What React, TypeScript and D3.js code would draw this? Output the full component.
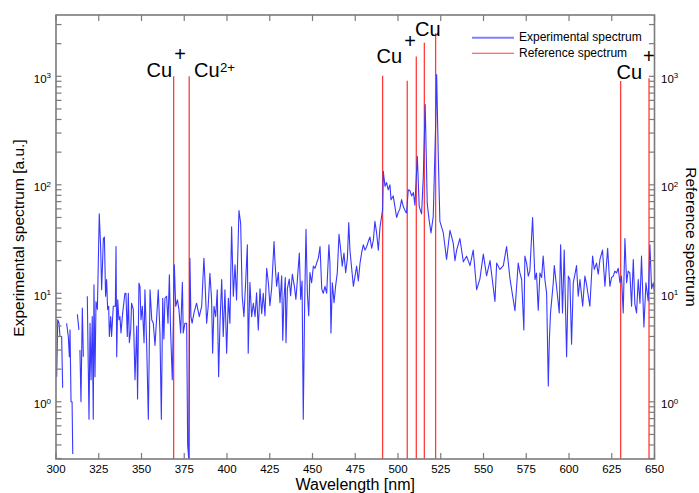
import React from "react";
import * as d3 from "d3";

// ---- DATA ----
const wavelengths: number[] = [
  300.4, 301.0, 301.8, 302.3, 303.3, 303.9, 305.0, 306.2, 307.2, 307.8, 308.2, 308.8, 309.4, 309.8, 311.0,
  312.5, 313.4, 313.7, 314.0, 314.6, 315.4, 316.0, 317.0, 318.3, 319.3, 319.9, 320.5, 321.2, 321.8, 322.2,
  322.8, 323.4, 324.2, 325.3, 326.1, 326.7, 327.7, 328.3, 329.0, 329.6, 330.2, 330.8, 331.2, 332.0, 332.5,
  333.5, 334.7, 335.1, 335.5, 336.1, 336.8, 337.4, 338.0, 339.0, 340.3, 340.9, 341.7, 342.3, 342.9, 343.7,
  344.2, 345.2, 346.2, 347.2, 347.7, 348.5, 349.1, 349.7, 350.5, 351.5, 352.0, 353.0, 354.0, 355.0, 356.0,
  356.9, 357.9, 358.9, 359.8, 360.8, 361.6, 362.4, 363.1, 363.7, 364.7, 365.5, 366.3, 367.0, 368.0, 369.2,
  370.0, 371.0, 371.9, 372.9, 373.9, 374.4, 375.4, 376.4, 377.0, 377.6, 378.3, 378.9, 379.6, 380.7, 382.2,
  383.8, 385.2, 386.5, 387.1, 388.1, 389.0, 390.0, 391.0, 391.6, 392.4, 393.4, 394.3, 395.1, 395.9, 396.9,
  397.8, 398.8, 399.8, 400.8, 401.7, 402.7, 403.7, 404.7, 405.6, 407.0, 408.0, 408.9, 409.9, 410.9, 411.9,
  412.4, 413.4, 414.4, 415.4, 416.4, 417.3, 418.3, 419.3, 420.3, 421.2, 422.2, 423.2, 424.2, 425.1, 426.1,
  427.5, 428.1, 429.0, 430.0, 431.0, 432.0, 432.6, 433.3, 434.1, 434.5, 435.3, 436.4, 437.2, 438.2, 439.4,
  440.3, 441.1, 442.3, 443.1, 443.9, 444.6, 445.4, 446.2, 447.0, 447.8, 448.5, 449.5, 450.5, 451.5, 452.4,
  453.4, 454.4, 455.4, 456.3, 457.3, 458.3, 459.6, 460.2, 460.8, 461.6, 462.6, 463.5, 464.5, 465.5, 466.5,
  467.4, 468.4, 469.4, 470.4, 471.2, 471.9, 472.9, 473.9, 474.9, 475.8, 476.8, 477.8, 478.7, 479.7, 480.7,
  481.7, 482.6, 483.6, 484.6, 485.6, 486.5, 487.5, 488.5, 489.5, 490.4, 491.0, 491.4, 492.4, 493.3, 494.3,
  495.3, 495.9, 497.2, 498.2, 499.2, 500.2, 501.1, 502.1, 503.1, 504.5, 505.0, 506.0, 507.0, 508.0, 509.0,
  509.9, 511.3, 512.4, 513.8, 514.8, 515.9, 517.1, 518.3, 519.3, 520.6, 522.0, 522.6, 523.6, 524.5, 526.5,
  528.4, 530.4, 532.3, 533.3, 534.3, 536.2, 538.2, 540.1, 542.1, 544.0, 546.0, 547.9, 549.9, 551.8, 553.8,
  556.7, 557.7, 559.6, 561.6, 563.5, 565.5, 568.4, 570.3, 571.3, 572.3, 573.6, 574.2, 575.2, 576.2, 577.1,
  578.7, 580.1, 581.0, 582.0, 583.0, 584.0, 584.9, 585.9, 586.9, 587.9, 588.5, 589.2, 590.8, 591.4, 592.7,
  594.3, 595.1, 596.2, 597.2, 598.6, 599.6, 600.5, 601.5, 602.5, 603.5, 604.4, 605.4, 606.4, 608.0, 609.3,
  610.3, 611.3, 612.2, 613.8, 614.8, 616.1, 617.1, 618.1, 619.6, 621.0, 622.6, 623.9, 624.9, 625.9, 626.8,
  627.8, 628.8, 629.8, 630.7, 631.7, 632.7, 633.7, 634.6, 635.6, 636.6, 637.6, 638.5, 639.5, 640.5, 641.5,
  642.4, 643.8, 645.0, 646.3, 647.3, 648.3, 649.3, 650.0,
];

const intensities: (number | null)[] = [
  1.7, 5.7, 5.3, 4.0, 4.0, 1.35, null, 5.3, 4.0, 2.6, 4.6, 1.0, 1.0, 0.33, null,
  6.4, 4.6, null, 3.0, 1.0, 7.3, 2.6, null, 9.4, 0.69, 5.3, 1.6, 6.1, 0.69, 12,
  1.7, 8.4, 7.1, 54, 27, 10.8, 32, 33, 9.4, 13.4, 7.1, 7.6, 4.0, 6.1, 4.0,
  7.6, 7.6, 27, 2.6, 8.7, 5.7, 6.1, 4.3, 6.6, 10, 10, 4.0, 10, 3.5, 4.6,
  8.1, 7.1, 1.6, 5.0, 1.06, 12.4, 11.6, 5.7, 7.6, 3.5, 10.8, 3.5, 0.69, 10.8, 5.7,
  5.3, 3.3, 6.1, 10.8, 4.3, 0.69, 9.0, 3.8, 9.0, 9.4, 5.3, 14.8, 4.6, 1.6, 18.3,
  7.6, 8.7, 7.1, 4.3, 12.6, 4.3, 5.3, 5.3, 0.4, 0.3, 21, 6.1, 5.3, 6.6, 8.1,
  6.1, 7.6, 21, 13.4, 5.3, 7.6, 15.3, 8.7, 2.8, 7.6, 6.1, 10.8, 1.7, 5.3, 13.4,
  4.0, 10.8, 2.8, 9.0, 5.3, 41, 9.4, 18.3, 8.7, 58, 44, 9.4, 6.1, 12.6, 28,
  2.8, 12.6, 6.1, 8.1, 6.1, 10.1, 4.6, 11, 6.5, 10, 6.2, 17, 12.5, 7.7, 11,
  30, 19, 11.6, 15.5, 8.2, 14.5, 3.7, 8.8, 14, 3.5, 11, 13.5, 9.5, 15, 11.6,
  8.8, 13, 23.5, 8.8, 13, 0.69, 7.7, 39, 10, 6.2, 15.5, 12.5, 17.8, 17, 19,
  21, 27, 11, 10, 11.6, 10, 28, 19, 4.3, 12.5, 8.2, 11.6, 15.5, 35, 25,
  17.8, 23.5, 15.5, 21, 45, 25, 17, 11.6, 14.5, 17.8, 13, 19, 23.5, 28, 25,
  27, 30, 33, 26, 31, 46, 36, 25, 41, 51, 59, 133, 97, 105, 90,
  100, 73, 79, 63, 50, 56, 60, 73, 63, 56, 55, 90, 88, 79, 85,
  65, 183, 63, 54, 120, 549, 67, 46, 36, 51, 347, 1038, 171, 46, 36,
  20.5, 38, 29, 20, 25, 32, 19.5, 22, 18, 25, 10.8, 13.6, 23, 14.5, 20,
  8.4, 19, 16.6, 18, 27, 13.6, 6.9, 19, 15.4, 13.4, 4.6, 22, 19, 14.4, 16,
  50, 13.4, 15.4, 7, 15.4, 14, 22, 13.4, 10.1, 1.4, 3.7, 6.6, 12.5, 18, 11.6,
  6.6, 28, 6.6, 25, 2.6, 14.4, 13.4, 3.4, 12.5, 15, 18, 9.4, 13.4, 7.6, 14.4,
  12, 9.4, 7.6, 22, 16.6, 19, 15, 20.5, 25, 11.6, 26, 11.6, 14, 14.4, 16,
  15.4, 17, 12.5, 14.4, 6.6, 32, 12.5, 16, 15.4, 7.6, 20.5, 8, 6.6, 13.4, 8.1,
  22, 4.9, 12.5, 8.5, 28, 11, 12.5, 10,
];

const refWavelengths: number[] = [368.8, 377.9, 491.0, 505.4, 510.7, 515.4, 522.0, 630.2, 646.8];
const refIntensities: number[] = [1000, 1000, 1010, 910, 1520, 2040, 2500, 905, 960];

const xTickValues: number[] = [300, 325, 350, 375, 400, 425, 450, 475, 500, 525, 550, 575, 600, 625, 650];
const yDecades: number[] = [1, 10, 100, 1000];
const yDecadeExponents: string[] = ["0", "1", "2", "3"];

const legendLabels: string[] = ["Experimental spectrum", "Reference spectrum"];
const xAxisLabel = "Wavelength [nm]";
const leftAxisLabel = "Experimental spectrum [a.u.]";
const rightAxisLabel = "Reference spectrum";
const ionBase = "Cu";
const ionSuperscripts: string[] = ["+", "2+", "+", "", "+"];

// ---- LAYOUT ----
const W = 699;
const H = 493;
const L = 56;
const R = 654.5;
const T = 15;
const B = 459;
const FONT = "'Liberation Sans', Arial, Helvetica, sans-serif";
const AXIS = "#7b7b7b";
const BLUE = "#3838ff";
const RED = "#ff3c3c";

export default function App() {
  const x = d3.scaleLinear().domain([300, 650]).range([L, R]);
  const y = d3.scaleLog().domain([0.297, 3674]).range([B, T]);

  const pts = wavelengths.map((w, i) => ({ w, v: intensities[i] }));
  const line = d3
    .line<{ w: number; v: number | null }>()
    .defined((d) => d.v !== null && d.v > 0)
    .x((d) => x(d.w))
    .y((d) => y(d.v as number));

  const minorTicks: number[] = [];
  for (const dec of [0.1, 1, 10, 100, 1000]) {
    for (let m = 1; m <= 9; m++) {
      const v = m * dec;
      if (v >= 0.297 && v <= 3674) minorTicks.push(v);
    }
  }

  // ion label placements (pixel layout)
  const ionPlaces = [
    { x: 146.5, y: 77, sx: 174.2, sy: 60.7, sf: 20 },
    { x: 194, y: 77, sx: 220, sy: 71.5, sf: 13.2 },
    { x: 376.5, y: 63, sx: 404.2, sy: 47.9, sf: 20 },
    { x: 415, y: 35.5, sx: 0, sy: 0, sf: 20 },
    { x: 616.5, y: 79, sx: 643, sy: 63.2, sf: 20 },
  ];

  return (
    <svg
      width={W}
      height={H}
      style={{ position: "absolute", left: 0, top: 0, background: "#fff" }}
      fontFamily={FONT}
    >
      <defs>
        <clipPath id="plotclip">
          <rect x={L} y={T} width={R - L} height={B - T} />
        </clipPath>
      </defs>
      <rect x={0} y={0} width={W} height={H} fill="#fff" />

      {/* reference spectrum lines */}
      <g clipPath="url(#plotclip)">
        {refWavelengths.map((w, i) => (
          <line
            key={"r" + i}
            x1={x(w)}
            x2={x(w)}
            y1={B}
            y2={y(refIntensities[i])}
            stroke={RED}
            strokeWidth={1.3}
          />
        ))}
        <path d={line(pts) || ""} fill="none" stroke={BLUE} strokeWidth={1.1} strokeLinejoin="round" />
      </g>

      {/* frame */}
      <rect x={L} y={T} width={R - L} height={B - T} fill="none" stroke={AXIS} strokeWidth={1.6} />

      {/* x ticks */}
      {xTickValues.map((t) => (
        <g key={"x" + t}>
          <line x1={x(t)} x2={x(t)} y1={B} y2={B - 6} stroke={AXIS} strokeWidth={1.2} />
          <line x1={x(t)} x2={x(t)} y1={T} y2={T + 6} stroke={AXIS} strokeWidth={1.2} />
          <text x={x(t)} y={472.5} fontSize={11.5} textAnchor="middle" fill="#000">
            {t}
          </text>
        </g>
      ))}

      {/* y ticks */}
      {minorTicks.map((v, i) => (
        <g key={"y" + i}>
          <line x1={L} x2={L + 5.5} y1={y(v)} y2={y(v)} stroke={AXIS} strokeWidth={1.2} />
          <line x1={R} x2={R - 5.5} y1={y(v)} y2={y(v)} stroke={AXIS} strokeWidth={1.2} />
        </g>
      ))}
      {yDecades.map((v, i) => (
        <g key={"yl" + i}>
          <text x={51} y={y(v) + 6.5} fontSize={11.5} textAnchor="end" fill="#000">
            10
            <tspan fontSize={8} dy={-4.5}>
              {yDecadeExponents[i]}
            </tspan>
          </text>
          <text x={661} y={y(v) + 6.5} fontSize={11.5} textAnchor="start" fill="#000">
            10
            <tspan fontSize={8} dy={-4.5}>
              {yDecadeExponents[i]}
            </tspan>
          </text>
        </g>
      ))}

      {/* axis labels */}
      <text x={(L + R) / 2} y={489.5} fontSize={16} textAnchor="middle" fill="#000">
        {xAxisLabel}
      </text>
      <text
        transform={`translate(24,238) rotate(-90)`}
        fontSize={15.5}
        textAnchor="middle"
        fill="#000"
      >
        {leftAxisLabel}
      </text>
      <text
        transform={`translate(686,237) rotate(90)`}
        fontSize={15.5}
        textAnchor="middle"
        fill="#000"
      >
        {rightAxisLabel}
      </text>

      {/* ion labels */}
      {ionPlaces.map((p, i) => (
        <g key={"ion" + i}>
          <text x={p.x} y={p.y} fontSize={20} fill="#000">
            {ionBase}
          </text>
          {ionSuperscripts[i] && (
            <text x={p.sx} y={p.sy} fontSize={p.sf} fill="#000">
              {ionSuperscripts[i]}
            </text>
          )}
        </g>
      ))}

      {/* legend */}
      <line x1={472} x2={514} y1={37.7} y2={37.7} stroke="#7f7fff" strokeWidth={2} />
      <text x={519} y={41.3} fontSize={12} fill="#000">
        {legendLabels[0]}
      </text>
      <line x1={472} x2={514} y1={53.3} y2={53.3} stroke={RED} strokeWidth={1.1} />
      <text x={519} y={56.8} fontSize={12} fill="#000">
        {legendLabels[1]}
      </text>
    </svg>
  );
}
